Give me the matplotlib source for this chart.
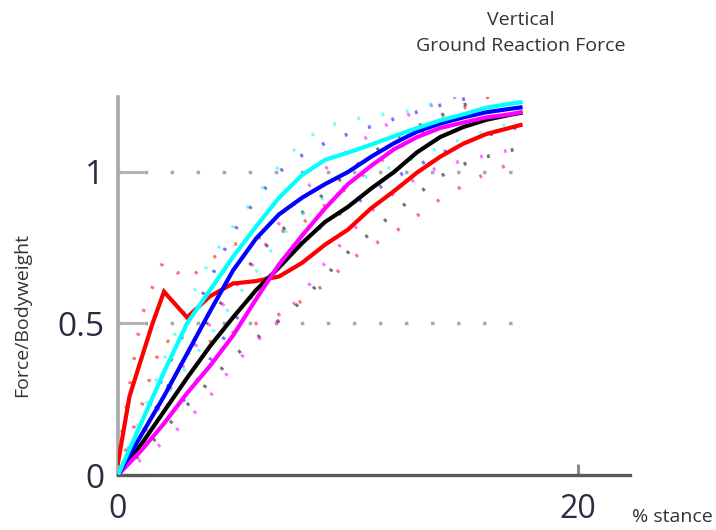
import numpy as np
import matplotlib
matplotlib.use('Agg')
import matplotlib.pyplot as plt

'''
Vertical ground reaction force, first ~17% of stance.
Solid lines are group means, dotted lines the +/- SD band of each group.
'''

STANCE = [0, 0.5, 1, 1.5, 2, 3, 4, 5, 6, 7, 8, 9, 10, 11, 12, 13, 14, 15, 16, 17, 17.5]

red_mean = [0.04, 0.26, 0.38, 0.50, 0.605, 0.52, 0.59, 0.632, 0.64, 0.655, 0.70, 0.76, 0.81, 0.88, 0.937, 0.998, 1.05, 1.093, 1.125, 1.145, 1.155]
red_hi = [0.06, 0.29, 0.52, 0.62, 0.71, 0.64, 0.71, 0.76, 0.78, 0.80, 0.83, 0.89, 0.95, 1.01, 1.07, 1.12, 1.17, 1.21, 1.245, 1.27, 1.28]
red_lo = [0.0, 0.12, 0.22, 0.35, 0.45, 0.40, 0.44, 0.47, 0.50, 0.53, 0.575, 0.63, 0.705, 0.755, 0.80, 0.855, 0.91, 0.955, 0.995, 1.025, 1.04]

black_mean = [0.0, 0.05, 0.10, 0.155, 0.21, 0.32, 0.425, 0.52, 0.61, 0.685, 0.765, 0.835, 0.885, 0.945, 1.0, 1.065, 1.115, 1.148, 1.172, 1.188, 1.195]
black_hi = [0.01, 0.065, 0.13, 0.20, 0.27, 0.40, 0.52, 0.62, 0.72, 0.80, 0.865, 0.93, 1.0, 1.06, 1.11, 1.15, 1.185, 1.22, 1.25, 1.27, 1.28]
black_lo = [0.0, 0.035, 0.07, 0.11, 0.15, 0.23, 0.31, 0.39, 0.45, 0.51, 0.575, 0.655, 0.735, 0.80, 0.865, 0.925, 0.985, 1.025, 1.05, 1.07, 1.08]

magenta_mean = [0.0, 0.04, 0.08, 0.125, 0.17, 0.27, 0.36, 0.46, 0.58, 0.695, 0.79, 0.88, 0.96, 1.02, 1.075, 1.115, 1.145, 1.163, 1.18, 1.19, 1.197]
magenta_hi = [0.01, 0.06, 0.12, 0.185, 0.25, 0.38, 0.50, 0.61, 0.71, 0.83, 0.93, 1.01, 1.07, 1.125, 1.17, 1.2, 1.232, 1.255, 1.27, 1.28, 1.285]
magenta_lo = [0.0, 0.025, 0.05, 0.08, 0.11, 0.18, 0.26, 0.36, 0.44, 0.51, 0.595, 0.70, 0.79, 0.87, 0.93, 0.98, 1.02, 1.037, 1.055, 1.072, 1.08]

blue_mean = [0.0, 0.065, 0.13, 0.195, 0.26, 0.40, 0.54, 0.675, 0.78, 0.86, 0.915, 0.96, 1.0, 1.05, 1.095, 1.133, 1.16, 1.18, 1.197, 1.208, 1.213]
blue_hi = [0.01, 0.09, 0.17, 0.25, 0.33, 0.49, 0.645, 0.80, 0.91, 1.0, 1.055, 1.095, 1.125, 1.15, 1.175, 1.198, 1.22, 1.24, 1.26, 1.275, 1.28]
blue_lo = [0.0, 0.04, 0.08, 0.125, 0.17, 0.26, 0.38, 0.50, 0.61, 0.70, 0.77, 0.83, 0.88, 0.93, 0.98, 1.02, 1.06, 1.095, 1.12, 1.14, 1.15]

cyan_mean = [0.0, 0.085, 0.17, 0.255, 0.34, 0.50, 0.61, 0.72, 0.82, 0.915, 0.99, 1.04, 1.064, 1.09, 1.118, 1.145, 1.17, 1.19, 1.212, 1.225, 1.23]
cyan_hi = [0.01, 0.10, 0.19, 0.28, 0.38, 0.56, 0.71, 0.82, 0.92, 1.02, 1.10, 1.15, 1.17, 1.185, 1.195, 1.205, 1.235, 1.26, 1.28, 1.30, 1.31]
cyan_lo = [0.0, 0.065, 0.13, 0.19, 0.25, 0.36, 0.46, 0.57, 0.67, 0.78, 0.86, 0.92, 0.96, 0.99, 1.02, 1.05, 1.08, 1.11, 1.135, 1.16, 1.17]

GRID_Y = [0.5, 1]
X_TICKS = [0, 20]
X_TICKLABELS = ['0', '20']
Y_TICKS = [0, 0.5, 1]
Y_TICKLABELS = ['0', '0.5', '1']

groups = [
    ('#ff0000', red_mean, red_hi, red_lo),
    ('#000000', black_mean, black_hi, black_lo),
    ('#ff00ff', magenta_mean, magenta_hi, magenta_lo),
    ('#0000ff', blue_mean, blue_hi, blue_lo),
    ('#00ffff', cyan_mean, cyan_hi, cyan_lo),
]

plt.rcParams['font.family'] = ['Open Sans', 'DejaVu Sans']

fig = plt.figure(figsize=(7.16, 5.30), dpi=100)
ax = fig.add_axes([118 / 716, 55 / 530, 512 / 716, 378 / 530])

# dotted reference lines at 0.5 and 1 bodyweight
ax.hlines(GRID_Y, 0, STANCE[-1], colors='#a8a8a8', linewidth=2.5,
          linestyles=(0, (1, 6.5)), zorder=1)

# SD bands first so the means sit on top
for color, mean, hi, lo in groups:
    for band in (hi, lo):
        ax.plot(STANCE, band, color=color, linewidth=2.6, alpha=0.55,
                linestyle=(0, (0.8, 6)), dash_capstyle='butt', zorder=2)

for color, mean, hi, lo in groups:
    ax.plot(STANCE, mean, color=color, linewidth=3.0, zorder=3,
            solid_joinstyle='miter')

ax.set_xlim(0, 22.26)
ax.set_ylim(0, 1.2475)

for side in ('top', 'right'):
    ax.spines[side].set_visible(False)
ax.spines['left'].set_color('#a8a8a8')
ax.spines['left'].set_linewidth(2.6)
ax.spines['bottom'].set_color('#5a5a5a')
ax.spines['bottom'].set_linewidth(2.4)

ax.set_xticks(X_TICKS)
ax.set_xticklabels(X_TICKLABELS)
ax.set_yticks(Y_TICKS)
ax.set_yticklabels(Y_TICKLABELS)
ax.tick_params(axis='y', direction='in', length=19, width=2.2, color='#b4b4b4',
               pad=10, labelsize=24, labelcolor='#2a2d40')
ax.tick_params(axis='x', direction='in', length=8, width=2.2, color='#8a8a8a',
               pad=13, labelsize=23, labelcolor='#2a2d40')

fig.text(0.7277, 0.962, 'Vertical', ha='center', va='center',
         fontsize=14, color='#333333')
fig.text(0.7277, 0.913, 'Ground Reaction Force', ha='center', va='center',
         fontsize=14, color='#333333')
fig.text(0.0307, 0.4057, 'Force/Bodyweight', ha='center', va='center',
         rotation=90, fontsize=14, color='#333333')
fig.text(0.883, 0.024, '% stance', ha='left', va='center',
         fontsize=14, color='#333333')

fig.savefig('out.png', dpi=100)
